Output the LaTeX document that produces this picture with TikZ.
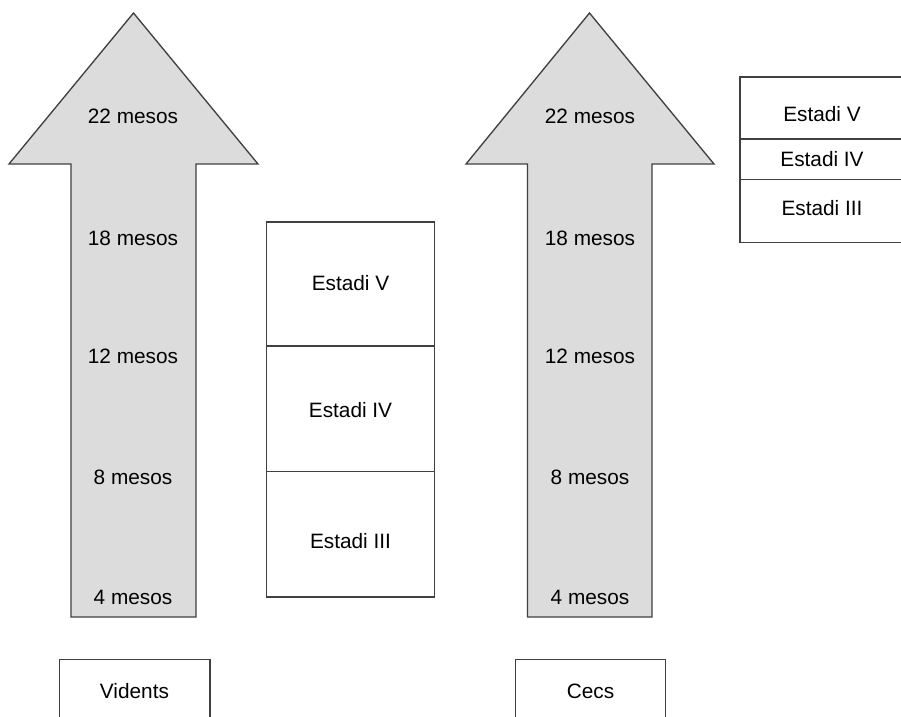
\documentclass[tikz,border=0pt]{standalone}
\usepackage{fontspec}
\setmainfont{Liberation Sans}
\definecolor{lineC}{HTML}{404040}
\definecolor{arrowFill}{HTML}{DCDCDC}
\begin{document}
\begin{tikzpicture}[x=0.75pt,y=-0.75pt,
  bigarrow/.style={draw=lineC,line width=1pt,fill=arrowFill,line join=miter},
  stagebox/.style={draw=lineC,line width=0.9pt,fill=white,inner sep=0pt,anchor=north west},
  lbl/.style={font=\fontsize{15.6}{18}\selectfont,inner sep=0pt,text=black}]
\useasboundingbox (0,0) rectangle (901,717);
\clip (0,0) rectangle (901,717);
\fill[white] (0,0) rectangle (901,717);
% left arrow
\draw[bigarrow] (71,617) -- (71,164) -- (9,164) -- (133.5,13) -- (258,164) -- (196,164) -- (196,617) -- cycle;
% right arrow
\draw[bigarrow] (527.5,617) -- (527.5,164) -- (466,164) -- (589.5,13) -- (714,164) -- (652,164) -- (652,617) -- cycle;
% left arrow labels
\node[lbl] (l22) at (133,116) {22 mesos};
\node[lbl] (l18) at (133,238) {18 mesos};
\node[lbl] (l12) at (133,356) {12 mesos};
\node[lbl] (l8)  at (133,477) {8 mesos};
\node[lbl] (l4)  at (133,597) {4 mesos};
% right arrow labels
\node[lbl] (r22) at (590,116) {22 mesos};
\node[lbl] (r18) at (590,238) {18 mesos};
\node[lbl] (r12) at (590,356) {12 mesos};
\node[lbl] (r8)  at (590,477) {8 mesos};
\node[lbl] (r4)  at (590,597) {4 mesos};
% middle stack
\draw[draw=lineC,line width=0.9pt,fill=white] (266.5,222) rectangle (434.5,597);
\draw[draw=lineC,line width=0.9pt] (266.5,346) -- (434.5,346);
\draw[draw=lineC,line width=0.9pt] (266.5,471.5) -- (434.5,471.5);
\node[lbl] (m5) at (350.5,283) {Estadi V};
\node[lbl] (m4) at (350.5,410) {Estadi IV};
\node[lbl] (m3) at (350.5,541) {Estadi III};
% right stack
\draw[draw=lineC,line width=0.9pt,fill=white] (740,77) rectangle (904,242.5);
\draw[draw=lineC,line width=0.9pt] (740,139) -- (904,139);
\draw[draw=lineC,line width=0.9pt] (740,179.5) -- (904,179.5);
\node[lbl] (s5) at (822,114) {Estadi V};
\node[lbl] (s4) at (822,159) {Estadi IV};
\node[lbl] (s3) at (822,208) {Estadi III};
% bottom boxes
\draw[draw=lineC,line width=0.9pt,fill=white] (59.5,659.5) rectangle (210,725);
\node[lbl] (vid) at (134.5,691) {Vidents};
\draw[draw=lineC,line width=0.9pt,fill=white] (515.5,659.5) rectangle (665.5,725);
\node[lbl] (cec) at (590.5,691) {Cecs};
\end{tikzpicture}
\end{document}
